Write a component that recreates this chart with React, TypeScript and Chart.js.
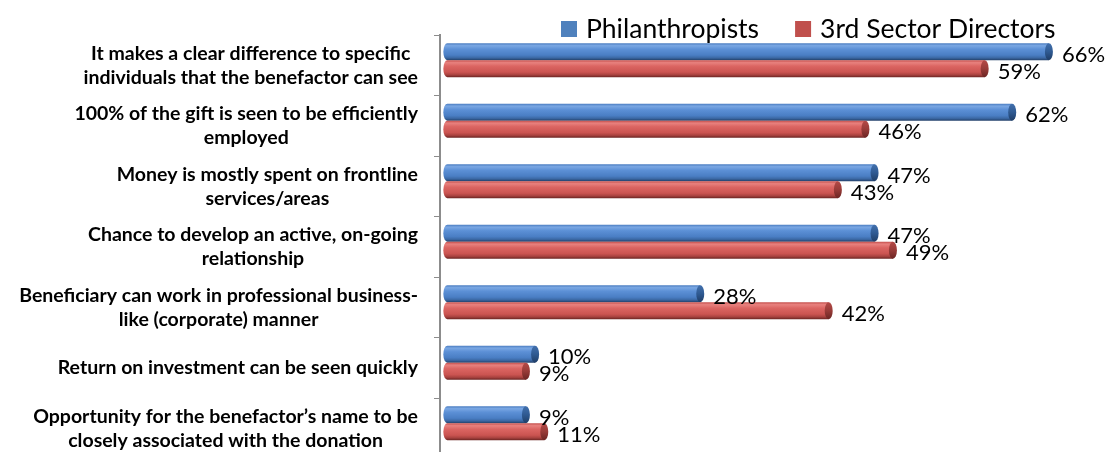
import React, { useEffect, useRef } from "react";
import { Chart, registerables } from "chart.js";

Chart.register(...registerables);

// ---------- data ----------
const categories: string[][] = [
  ["It makes a clear difference to specific", "individuals that the benefactor can see"],
  ["100% of the gift is seen to be efficiently", "employed"],
  ["Money is mostly spent on frontline", "services/areas"],
  ["Chance to develop an active, on-going", "relationship"],
  ["Beneficiary can work in professional business-", "like (corporate) manner"],
  ["Return on investment can be seen quickly"],
  ["Opportunity for the benefactor\u2019s name to be", "closely associated with the donation"],
];
const seriesNames = ["Philanthropists", "3rd Sector Directors"];
const philanthropists = [66, 62, 47, 47, 28, 10, 9];
const directors = [59, 46, 43, 49, 42, 9, 11];
const seriesColors = ["#4F81BD", "#C0504D"];

// ---------- style ----------
const FONT = "Lato, 'Open Sans', sans-serif";
const LABEL_SIZE = 19.5;
const LABEL_LINE_H = 24;
const VALUE_SIZE = 22;
const LEGEND_SIZE = 26.5;
const BAR_SHIFT = -5;

const palettes = [
  {
    body: [
      [0, "#4a7cc0"],
      [0.14, "#7aa7e3"],
      [0.35, "#5c90d6"],
      [0.7, "#4a7ec4"],
      [0.86, "#3b68a4"],
      [1, "#223f68"],
    ],
    cap: [
      [0, "#4270ad"],
      [0.5, "#2f5a92"],
      [1, "#1f3d66"],
    ],
  },
  {
    body: [
      [0, "#c44f4c"],
      [0.14, "#e8817e"],
      [0.35, "#db6562"],
      [0.7, "#cb5451"],
      [0.86, "#a8423f"],
      [1, "#6a2422"],
    ],
    cap: [
      [0, "#b44a47"],
      [0.5, "#983b38"],
      [1, "#6b2523"],
    ],
  },
];

function drawCylinder(ctx: CanvasRenderingContext2D, x0: number, x1: number, yc: number, h: number, di: number) {
  const rx = 4;
  const ry = h / 2;
  const top = yc - ry;
  const bot = yc + ry;
  const pal = palettes[di];
  const xe = Math.max(x0, x1 - rx);
  const g = ctx.createLinearGradient(0, top, 0, bot);
  pal.body.forEach(([o, c]) => g.addColorStop(o as number, c as string));
  ctx.beginPath();
  ctx.moveTo(xe, top);
  ctx.lineTo(x0, top);
  ctx.ellipse(x0, yc, rx, ry, 0, -Math.PI / 2, Math.PI / 2, true);
  ctx.lineTo(xe, bot);
  ctx.closePath();
  ctx.fillStyle = g;
  ctx.fill();
  const gc = ctx.createLinearGradient(0, top, 0, bot);
  pal.cap.forEach(([o, c]) => gc.addColorStop(o as number, c as string));
  ctx.beginPath();
  ctx.ellipse(xe, yc, rx, ry, 0, 0, Math.PI * 2);
  ctx.fillStyle = gc;
  ctx.fill();
}

const cylinderPlugin = {
  id: "cylinders",
  beforeDatasetsDraw(chart: any) {
    const ctx = chart.ctx as CanvasRenderingContext2D;
    ctx.save();
    chart.data.datasets.forEach((_ds: any, di: number) => {
      const meta = chart.getDatasetMeta(di);
      if (meta.hidden) return;
      meta.data.forEach((el: any) => {
        const p = el.getProps(["x", "y", "base", "height"], true);
        drawCylinder(ctx, p.base, p.x, p.y + BAR_SHIFT, p.height, di);
      });
    });
    ctx.restore();
    return false;
  },
};

const valueLabelPlugin = {
  id: "valueLabels",
  afterDraw(chart: any) {
    const ctx = chart.ctx as CanvasRenderingContext2D;
    ctx.save();
    ctx.font = `${VALUE_SIZE}px ${FONT}`;
    ctx.fillStyle = "#000";
    ctx.textAlign = "left";
    ctx.textBaseline = "middle";
    chart.data.datasets.forEach((ds: any, di: number) => {
      const meta = chart.getDatasetMeta(di);
      meta.data.forEach((el: any, i: number) => {
        const p = el.getProps(["x", "y"], true);
        ctx.fillText(`${ds.data[i]}%`, p.x + 9, p.y + BAR_SHIFT + 3);
      });
    });
    ctx.restore();
  },
};

const categoryLabelPlugin = {
  id: "categoryLabels",
  afterDraw(chart: any) {
    const ctx = chart.ctx as CanvasRenderingContext2D;
    const yScale = chart.scales.y;
    ctx.save();
    ctx.font = `bold ${LABEL_SIZE}px ${FONT}`;
    ctx.fillStyle = "#000";
    ctx.textAlign = "center";
    ctx.textBaseline = "middle";
    const right = yScale.right - 22;
    categories.forEach((lines, i) => {
      const cy = yScale.getPixelForValue(i);
      const w = Math.max(...lines.map((l) => ctx.measureText(l).width));
      const cx = right - w / 2;
      const n = lines.length;
      lines.forEach((l, j) => ctx.fillText(l, cx, cy + (j - (n - 1) / 2) * LABEL_LINE_H));
    });
    ctx.restore();
  },
};

const legendPlugin = {
  id: "customLegend",
  afterDraw(chart: any) {
    const ctx = chart.ctx as CanvasRenderingContext2D;
    ctx.save();
    ctx.font = `${LEGEND_SIZE}px ${FONT}`;
    ctx.textAlign = "left";
    ctx.textBaseline = "middle";
    let x = 561;
    const yc = 29;
    chart.data.datasets.forEach((ds: any) => {
      ctx.fillStyle = ds.backgroundColor;
      ctx.fillRect(x, yc - 8, 16, 16);
      x += 16 + 9;
      ctx.fillStyle = "#000";
      ctx.fillText(ds.label, x, yc);
      x += ctx.measureText(ds.label).width + 36;
    });
    ctx.restore();
  },
};

export default function App() {
  const ref = useRef<HTMLCanvasElement | null>(null);

  useEffect(() => {
    if (!ref.current) return;
    const chart = new Chart(ref.current, {
      type: "bar",
      data: {
        labels: categories,
        datasets: [
          { label: seriesNames[0], data: philanthropists, backgroundColor: seriesColors[0], barThickness: 17 },
          { label: seriesNames[1], data: directors, backgroundColor: seriesColors[1], barThickness: 17 },
        ],
      },
      options: {
        indexAxis: "y",
        animation: false,
        responsive: false,
        maintainAspectRatio: false,
        layout: { padding: { top: 35, right: 15.4, bottom: 11.5, left: 0 } },
        plugins: { legend: { display: false }, tooltip: { enabled: false } },
        scales: {
          x: { display: false, min: -0.8, max: 70 },
          y: {
            afterFit: (s: any) => {
              s.width = 440;
            },
            ticks: { display: false },
            grid: {
              drawOnChartArea: false,
              drawTicks: true,
              tickLength: 6,
              color: "#8c8c8c",
              lineWidth: 1,
              offset: true,
            },
            border: { display: true, color: "#8c8c8c", width: 2 },
          },
        },
      },
      plugins: [cylinderPlugin, valueLabelPlugin, categoryLabelPlugin, legendPlugin],
    });
    return () => chart.destroy();
  }, []);

  return (
    <div style={{ position: "fixed", left: 0, top: 0, width: 1105, height: 470, background: "#fff" }}>
      <canvas ref={ref} width={1105} height={470} style={{ width: 1105, height: 470 }} />
    </div>
  );
}
